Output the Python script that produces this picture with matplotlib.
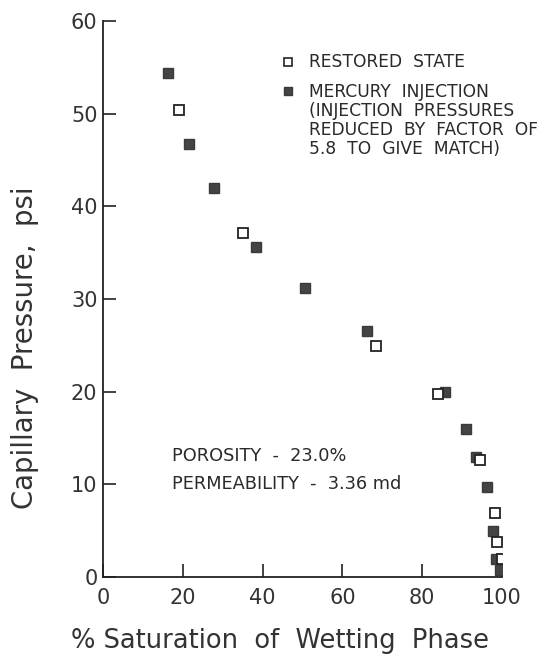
import matplotlib.pyplot as plt

# restored state (open squares)
restored_sat = [19.0, 35.0, 68.5, 84.0, 94.5, 98.25, 98.75, 100.0]
restored_pc = [50.4, 37.1, 24.9, 19.8, 12.6, 6.9, 3.8, 1.9]

# mercury injection, pressures scaled by 1/5.8 (filled squares)
mercury_sat = [16.25, 21.5, 27.75, 38.25, 50.75, 66.25, 85.75, 91.0, 93.5, 96.25, 97.75, 98.5, 99.5]
mercury_pc = [54.4, 46.7, 42.0, 35.6, 31.2, 26.6, 20.0, 16.0, 12.9, 9.7, 5.0, 1.9, 0.8]

x_ticks = [0, 20, 40, 60, 80, 100]
y_ticks = [0, 10, 20, 30, 40, 50, 60]

plt.rcParams['font.family'] = ['DejaVu Sans']

fig = plt.figure(figsize=(5.47, 6.61), dpi=100)
ax = fig.add_axes([0.1883, 0.1271, 0.7294, 0.8411])

ax.plot(mercury_sat, mercury_pc, 's', ms=6.5, mfc='#444444', mec='#3a3a3a', mew=1.0, ls='none')
ax.plot(restored_sat, restored_pc, 's', ms=6.5, mfc='white', mec='#222222', mew=1.3, ls='none')

ax.set_xlim(0, 100)
ax.set_ylim(0, 60)
ax.set_xticks(x_ticks)
ax.set_yticks(y_ticks)
ax.spines['top'].set_visible(False)
ax.spines['right'].set_visible(False)
for s in ['left', 'bottom']:
    ax.spines[s].set_linewidth(1.3)
    ax.spines[s].set_color('#222222')
ax.tick_params(axis='both', direction='in', length=9.5, width=1.2, colors='#222222',
               labelsize=15, labelcolor='#333333')
ax.tick_params(axis='x', pad=8)
ax.tick_params(axis='y', pad=4)

ax.set_xlabel('% Saturation  of  Wetting  Phase', fontsize=18.5, color='#333333')
ax.xaxis.set_label_coords(0.444, -0.091)
ax.set_ylabel('Capillary  Pressure,  psi', fontsize=19.8, color='#333333')
ax.yaxis.set_label_coords(-0.16, 0.412)

# legend drawn by hand so the marker sits on the first line of text
ax.plot([46.25], [55.6], 's', ms=6, mfc='white', mec='#222222', mew=1.2, clip_on=False)
ax.plot([46.25], [52.4], 's', ms=6, mfc='#444444', mec='#3a3a3a', mew=1.0, clip_on=False)
ax.text(51.75, 55.6, 'RESTORED  STATE', fontsize=12.3, va='center', color='#2a2a2a')
ax.text(51.75, 53.35, 'MERCURY  INJECTION\n(INJECTION  PRESSURES\nREDUCED  BY  FACTOR  OF\n5.8  TO  GIVE  MATCH)',
        fontsize=12.3, va='top', color='#2a2a2a', linespacing=1.07)

ax.text(17.25, 13.1, 'POROSITY  -  23.0%', fontsize=12.8, va='center', color='#2a2a2a')
ax.text(17.25, 10.0, 'PERMEABILITY  -  3.36 md', fontsize=12.8, va='center', color='#2a2a2a')

fig.savefig('out.png', dpi=100)
